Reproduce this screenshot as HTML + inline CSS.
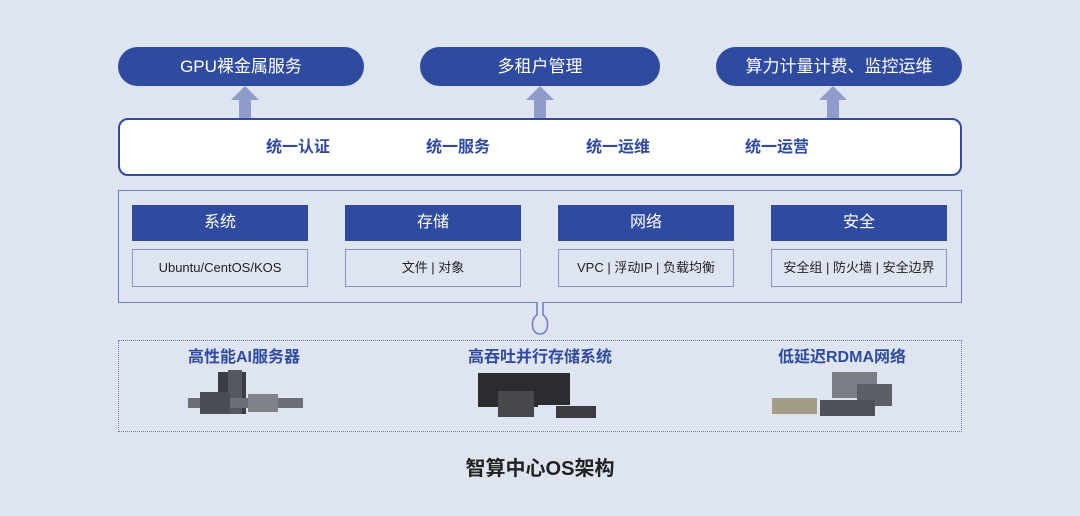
<!DOCTYPE html>
<html><head><meta charset="utf-8"><style>
body{margin:0;width:1080px;height:516px;background:#dfe4f1;font-family:"Liberation Sans","Noto Sans CJK SC",sans-serif;position:relative;overflow:hidden}
.a{position:absolute}
.pill{position:absolute;top:47px;height:39px;width:246px;background:#2f4b9f;border-radius:20px;color:#fff;font-size:17px;line-height:39px;text-align:center}
.arr{position:absolute;top:86px;width:28px;height:32px}
.wb{position:absolute;left:118px;top:118px;width:840px;height:54px;background:#fff;border:2px solid #2f4b9f;border-radius:10px}
.wt{position:absolute;top:133px;font-size:16px;font-weight:bold;color:#2f4b9f}
.big{position:absolute;left:118px;top:190px;width:842px;height:111px;border:1.5px solid #6a7cbf}
.hd{position:absolute;top:205px;width:176px;height:36px;background:#2f4b9f;color:#fff;font-size:16px;line-height:36px;text-align:center}
.sb{position:absolute;top:249px;width:174px;height:36px;border:1px solid #8593c6;color:#222;font-size:13px;line-height:36px;text-align:center}
.dot{position:absolute;left:118px;top:340px;width:842px;height:90px;border:1.5px dotted #6a7cbf}
.lb{position:absolute;top:343px;font-size:16px;font-weight:bold;color:#2f4b9f;text-align:center;width:240px}
</style></head><body>
<div class="pill" style="left:118px">GPU裸金属服务</div>
<div class="pill" style="left:420px;width:240px">多租户管理</div>
<div class="pill" style="left:716px">算力计量计费、监控运维</div>
<svg class="arr" style="left:231px" viewBox="0 0 28 32"><path d="M14 0 L28 14 L20 14 L20 32 L8 32 L8 14 L0 14Z" fill="#8e9bcb"/></svg>
<svg class="arr" style="left:526px" viewBox="0 0 28 32"><path d="M14 0 L28 14 L20 14 L20 32 L8 32 L8 14 L0 14Z" fill="#8e9bcb"/></svg>
<svg class="arr" style="left:819px" viewBox="0 0 28 32"><path d="M14 0 L28 14 L20 14 L20 32 L8 32 L8 14 L0 14Z" fill="#8e9bcb"/></svg>
<div class="wb"></div>
<div class="wt" style="left:266px">统一认证</div>
<div class="wt" style="left:426px">统一服务</div>
<div class="wt" style="left:586px">统一运维</div>
<div class="wt" style="left:745px">统一运营</div>
<div class="big"></div>
<div class="hd" style="left:132px">系统</div><div class="sb" style="left:132px">Ubuntu/CentOS/KOS</div>
<div class="hd" style="left:345px">存储</div><div class="sb" style="left:345px">文件 | 对象</div>
<div class="hd" style="left:558px">网络</div><div class="sb" style="left:558px">VPC | 浮动IP | 负载均衡</div>
<div class="hd" style="left:771px">安全</div><div class="sb" style="left:771px">安全组 | 防火墙 | 安全边界</div>
<svg class="a" style="left:528px;top:300px" width="24" height="36" viewBox="0 0 24 36"><path d="M9 2 L9 15 C2 19 3 34 12 34 C21 34 22 19 15 15 L15 2" fill="#dfe4f1" stroke="#6a7cbf" stroke-width="1.5"/><rect x="9.8" y="0" width="4.4" height="4" fill="#dfe4f1"/></svg>
<div class="dot"></div>
<div class="lb" style="left:124px">高性能AI服务器</div>
<div class="lb" style="left:420px">高吞吐并行存储系统</div>
<div class="lb" style="left:722px">低延迟RDMA网络</div>
<svg class="a" style="left:188px;top:370px" width="115" height="46">
<rect x="30" y="2" width="28" height="42" fill="#3a3d44"/><rect x="40" y="0" width="14" height="44" fill="#55585f"/>
<rect x="0" y="28" width="115" height="10" fill="#6c6f76"/><rect x="12" y="22" width="30" height="22" fill="#4a4d54"/><rect x="60" y="24" width="30" height="18" fill="#80838a"/></svg>
<svg class="a" style="left:478px;top:373px" width="120" height="46">
<rect x="0" y="0" width="60" height="34" fill="#2a2c30"/><rect x="60" y="0" width="32" height="32" fill="#2a2c30"/>
<rect x="20" y="18" width="36" height="26" fill="#46484d"/><rect x="78" y="33" width="40" height="12" fill="#3a3c42"/></svg>
<svg class="a" style="left:772px;top:370px" width="125" height="48">
<rect x="60" y="2" width="45" height="26" fill="#7a7d84"/><rect x="85" y="14" width="35" height="22" fill="#5c5f66"/>
<rect x="0" y="28" width="45" height="16" fill="#a39c88"/><rect x="48" y="30" width="55" height="16" fill="#4d5058"/></svg>
<div class="a" style="left:0;width:1080px;top:452px;text-align:center;font-size:20px;font-weight:bold;color:#222">智算中心OS架构</div>
</body></html>
